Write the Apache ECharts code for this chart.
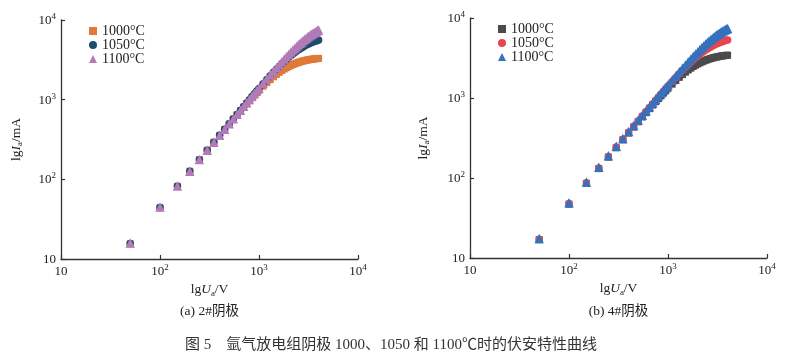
<!DOCTYPE html>
<html><head><meta charset="utf-8">
<script src="https://cdn.jsdelivr.net/npm/echarts@6/dist/echarts.min.js"></script>
<style>html,body{margin:0;padding:0;background:#fff}#c{width:787px;height:362px}</style>
</head><body><div id="c"></div><script>
// Anode voltage U_a (V)
const voltage = [50,100,150,200,250,300,350,400,450,500,550,600,650,700,750,800,850,900,950,1000,
  1100,1200,1300,1400,1500,1600,1700,1800,1900,2000,2100,2200,2300,2400,2500,2600,2700,2800,2900,3000,
  3100,3200,3300,3400,3500,3600,3700,3800,3900,4000];
// (a) cathode 2#, anode current I_a (mA)
const a1000 = [15.5,44.0,81.8,126.3,176.5,231.8,291.7,355.7,423.5,494.6,568.7,645.4,724.3,805,887,971,1055,1139,1224,1308,
  1475,1636,1791,1938,2075,2202,2319,2427,2524,2612,2691,2763,2827,2884,2936,2982,3023,3060,3093,3123,
  3150,3174,3195,3215,3233,3249,3263,3277,3289,3300];
const a1050 = [15.7,44.4,82.0,126.4,176.7,232.1,292.4,357.0,425.8,498.3,574.3,653.6,735.9,821.2,909.0,999.2,1091.9,1186.2,1282.8,1380.7,
  1581,1785,1993,2201,2409,2615,2818,3017,3210,3398,3578,3752,3917,4074,4223,4363,4496,4620,4737,4846,
  4948,5043,5131,5214,5290,5362,5428,5490,5547,5601];
const a1100 = [15.9,44.8,82.2,126.5,176.8,232.3,292.6,357.4,426.4,499.2,575.6,655.6,738.8,825.1,914.3,1006.3,1101.2,1198.1,1298,1399.6,
  1610,1827,2051,2280,2514,2751,2990,3231,3472,3712,3952,4189,4423,4652,4878,5099,5313,5522,5725,5920,
  6109,6291,6465,6633,6793,6946,7092,7232,7364,7491];
// (b) cathode 4#, anode current I_a (mA)
const b1000 = [16.9,47.0,85.7,131.0,182.2,238.4,299.2,364.1,432.4,504.0,578.5,655.5,734.8,815.8,898.3,982,1066.5,1151.5,1236.5,1321,
  1489,1653,1811,1961,2103,2235,2357,2470,2573,2667,2753,2830,2899,2962,3019,3070,3115,3157,3194,3228,
  3258,3285,3310,3332,3353,3371,3388,3403,3417,3430];
const b1050 = [17.2,48.0,87.4,133.7,186.1,243.6,306.0,372.7,443.2,517.5,595.1,675.9,759.8,846.1,934.9,1026.1,1119.3,1214.3,1310.8,1408.6,
  1608,1810,2013,2217,2418,2616,2810,2998,3181,3355,3523,3682,3833,3975,4109,4235,4353,4463,4566,4661,
  4750,4833,4909,4980,5046,5107,5164,5216,5265,5310];
const b1100 = [17.5,48.9,89.1,136.5,189.9,248.7,312.3,380.6,452.8,529.0,608.7,692.1,778.7,868.2,960.6,1055.8,1153.7,1254,1356,1461,
  1676,1898,2126,2359,2594,2834,3073,3314,3555,3793,4030,4263,4492,4716,4935,5148,5356,5557,5751,5937,
  6117,6289,6453,6611,6761,6904,7040,7170,7293,7410];

const legendNames = ['1000°C','1050°C','1100°C'];
const tickLabels = ['{n|10}','{n|10}{s|2}','{n|10}{s|3}','{n|10}{s|4}'];
const panelCaptions = ['(a) 2#阴极','(b) 4#阴极'];
const figureCaption = '图 5    氩气放电组阴极 1000、1050 和 1100℃时的伏安特性曲线';

const serif = '"Liberation Serif","Times New Roman",serif';
const ink = '#222';
function pts(ys){ return voltage.map((u,i)=>[u, ys[i]]); }
const tickRich = {
  n:{fontSize:13, fontFamily:serif, color:ink, verticalAlign:'bottom', lineHeight:14},
  s:{fontSize:9, fontFamily:serif, color:ink, verticalAlign:'bottom', lineHeight:9, padding:[0,0,6,0]}
};
const nameRich = {
  n:{fontSize:13.5, fontFamily:serif, color:ink, verticalAlign:'top', lineHeight:15},
  i:{fontSize:13.5, fontFamily:serif, fontStyle:'italic', color:ink, verticalAlign:'top', lineHeight:15},
  b:{fontSize:9, fontFamily:serif, color:ink, verticalAlign:'top', lineHeight:9, padding:[6,0,0,0]}
};
function fmt(v){ const e = Math.round(Math.log10(v)); return tickLabels[e-1]; }
function axisBase(gi){
  return {type:'log', logBase:10, gridIndex:gi, min:10, max:10000,
    axisLine:{show:true, onZero:false, lineStyle:{color:'#333', width:1.3}},
    axisTick:{show:true, inside:true, length:4, lineStyle:{color:'#333', width:1.2}},
    minorTick:{show:false}, splitLine:{show:false}, minorSplitLine:{show:false},
    axisLabel:{formatter:fmt, rich:tickRich, margin:5},
    nameLocation:'middle', nameTextStyle:{rich:nameRich}};
}
function xAxis(gi){ return Object.assign(axisBase(gi), {name:'{n|lg}{i|U}{b|a}{n|/V}', nameGap:23}); }
function yAxis(gi, gap){ return Object.assign(axisBase(gi), {name:'{n|lg}{i|I}{b|a}{n|/mA}', nameRotate:90, nameGap:gap}); }

const symbols = ['rect','circle','triangle'];
const sizes = [7,7.5,9.5];
const colorsA = ['#DF7A38','#1E4D6C','#B27BB8'];
const colorsB = ['#4B4B4B','#E8474F','#3671BF'];
const dataA = [a1000,a1050,a1100];
const dataB = [b1000,b1050,b1100];
const series = [];
dataA.forEach((d,k)=>series.push({type:'scatter', name:'a'+k, xAxisIndex:0, yAxisIndex:0, symbol:symbols[k], symbolSize:sizes[k], itemStyle:{color:colorsA[k], opacity:1}, data:pts(d), silent:true}));
dataB.forEach((d,k)=>series.push({type:'scatter', name:'b'+k, xAxisIndex:1, yAxisIndex:1, symbol:symbols[k], symbolSize:sizes[k], itemStyle:{color:colorsB[k], opacity:1}, data:pts(d), silent:true}));

const legendText = {fontFamily:serif, fontSize:14, color:ink, lineHeight:14};
const legendFmt = n => legendNames[+n.slice(1)];
const chart = echarts.init(document.getElementById('c'), null, {renderer:'canvas'});
chart.setOption({
  animation:false,
  backgroundColor:'#fff',
  grid:[{left:61, top:20, width:297, height:239}, {left:470, top:18, width:297, height:240}],
  xAxis:[xAxis(0), xAxis(1)],
  yAxis:[yAxis(0,37), yAxis(1,38.5)],
  legend:[
    {data:['a0','a1','a2'], formatter:legendFmt, orient:'vertical', left:84, top:19, itemWidth:8, itemHeight:8, itemGap:0, textStyle:legendText, selectedMode:false},
    {data:['b0','b1','b2'], formatter:legendFmt, orient:'vertical', left:493, top:17, itemWidth:8, itemHeight:8, itemGap:0, textStyle:legendText, selectedMode:false}
  ],
  graphic:[
    {type:'text', x:209.5, y:311, style:{text:panelCaptions[0], font:'13.5px "Liberation Serif","Noto Sans CJK SC"', fill:ink, textAlign:'center', textVerticalAlign:'middle', verticalAlign:'middle'}},
    {type:'text', x:618.5, y:311, style:{text:panelCaptions[1], font:'13.5px "Liberation Serif","Noto Sans CJK SC"', fill:ink, textAlign:'center', textVerticalAlign:'middle', verticalAlign:'middle'}},
    {type:'text', x:391, y:345, style:{text:figureCaption, font:'15px "Liberation Serif","Noto Sans CJK SC"', fill:'#333', textAlign:'center', textVerticalAlign:'middle', verticalAlign:'middle'}}
  ],
  series:series
});
</script></body></html>
